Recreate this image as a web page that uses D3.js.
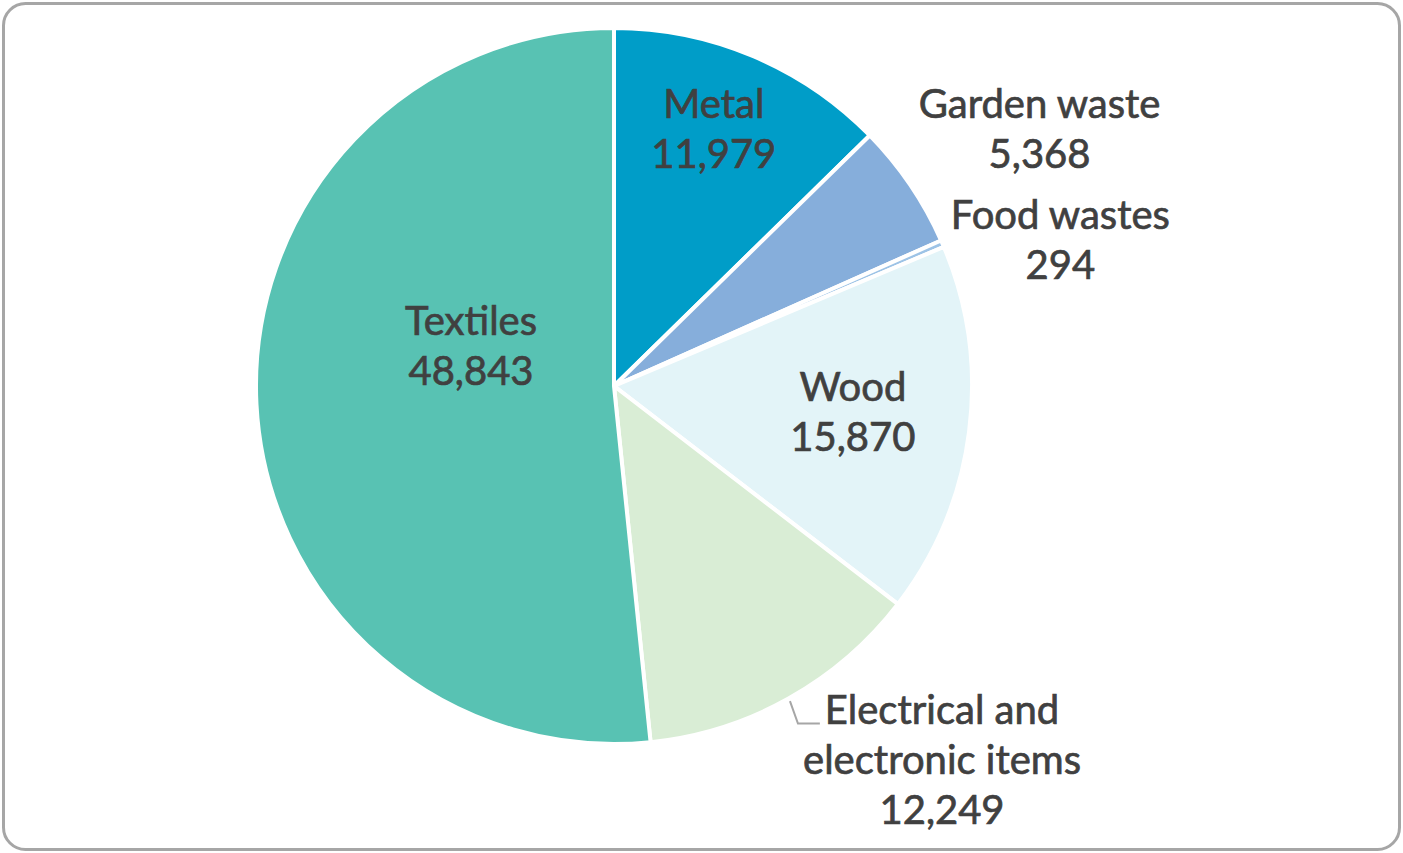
<!DOCTYPE html>
<html>
<head>
<meta charset="utf-8">
<script src="https://cdn.jsdelivr.net/npm/d3@7"></script>
<style>
  html, body { margin: 0; padding: 0; background: #fff; }
  svg { display: block; }
</style>
</head>
<body>
<svg id="chart" width="1403" height="853"></svg>
<script>
// Waste quantities by material
const categories = ["Metal", "Garden waste", "Food wastes", "Wood", "Electrical and electronic items", "Textiles"];
const values = [11979, 5368, 294, 15870, 12249, 48843];
const labelLines = [
  ["Metal"],
  ["Garden waste"],
  ["Food wastes"],
  ["Wood"],
  ["Electrical and", "electronic items"],
  ["Textiles"]
];
const colors = ["#009DC8", "#86AEDB", "#9DC3E6", "#E3F4F8", "#D9EDD5", "#58C2B3"];

// label placement: radius factor along slice mid-angle, then pixel nudge
const labelPlace = [
  { f: 0.77, dx: -7, dy: -3 },
  { f: 1.39, dx: 14, dy: 23 },
  { f: 1.31, dx: 16, dy: 40 },
  { f: 0.67, dx: 1, dy: -5 },
  { f: 1.387, dx: 86, dy: -60 },
  { f: 0.40, dx: 0, dy: -47 }
];

const W = 1403, H = 853;
const cx = 614, cy = 386, R = 358;
const fontSize = 40, lineH = 50;
const fmt = d3.format(",");

const svg = d3.select("#chart");

// outer frame
svg.append("rect")
  .attr("x", 3.5).attr("y", 3.5)
  .attr("width", W - 7).attr("height", H - 7)
  .attr("rx", 22).attr("ry", 22)
  .attr("fill", "#fff")
  .attr("stroke", "#A6A6A6")
  .attr("stroke-width", 3);

const data = categories.map((c, i) => ({ name: c, value: values[i], lines: labelLines[i], color: colors[i], place: labelPlace[i] }));

const pie = d3.pie().sort(null).value(d => d.value);
const arcs = pie(data);
const arc = d3.arc().innerRadius(0).outerRadius(R);

const g = svg.append("g").attr("transform", `translate(${cx},${cy})`);

g.selectAll("path.slice")
  .data(arcs)
  .join("path")
  .attr("class", "slice")
  .attr("d", arc)
  .attr("fill", d => d.data.color)
  .attr("stroke", "#fff")
  .attr("stroke-width", 4)
  .attr("stroke-linejoin", "round");

// labels
g.selectAll("g.label")
  .data(arcs)
  .join("g")
  .attr("class", "label")
  .each(function (d) {
    const mid = (d.startAngle + d.endAngle) / 2;
    const r = R * d.data.place.f;
    const x = Math.sin(mid) * r + d.data.place.dx;
    const y = -Math.cos(mid) * r + d.data.place.dy;
    const lines = d.data.lines.concat([fmt(d.data.value)]);
    const firstBase = y - (lines.length - 1) * lineH / 2 + fontSize * 0.35;
    const t = d3.select(this).append("text")
      .attr("text-anchor", "middle")
      .attr("font-family", "Lato, 'Noto Sans', sans-serif")
      .attr("font-size", fontSize)
      .attr("fill", "#404040")
      .attr("stroke", "#404040")
      .attr("stroke-width", 0.7);
    const spans = lines.map((ln, i) =>
      t.append("tspan").attr("x", x).attr("y", firstBase + i * lineH).text(ln)
    );
    d.labelBox = { x, firstBase, firstSpan: spans[0].node() };
  });

// leader line for the electrical items label
{
  const elec = arcs[4];
  const mid = (elec.startAngle + elec.endAngle) / 2;
  const firstW = elec.labelBox.firstSpan.getComputedTextLength();
  const yLine = elec.labelBox.firstBase;
  const xEnd = elec.labelBox.x - firstW / 2 - 5;
  const p0 = [Math.sin(mid) * (R + 3), -Math.cos(mid) * (R + 3)];
  const p1 = [p0[0] + 8, yLine];
  g.append("path")
    .attr("d", d3.line()([p0, p1, [xEnd, yLine]]))
    .attr("fill", "none")
    .attr("stroke", "#A6A6A6")
    .attr("stroke-width", 2);
}
</script>
</body>
</html>
